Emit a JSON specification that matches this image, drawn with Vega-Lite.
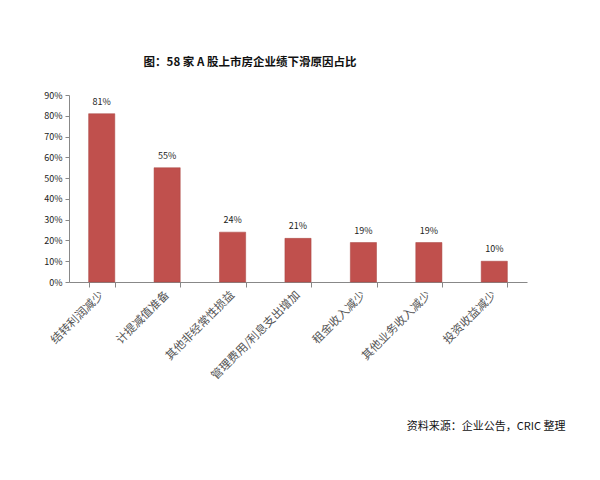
{
  "$schema": "https://vega.github.io/schema/vega-lite/v6.json",
  "autosize": "none",
  "width": 458,
  "height": 187,
  "padding": {"left": 69, "top": 95, "right": 73, "bottom": 198},
  "background": "white",
  "title": {
    "text": "图：58 家 A 股上市房企业绩下滑原因占比",
    "anchor": "middle",
    "dx": -48,
    "offset": 23,
    "font": "Noto Sans CJK SC",
    "fontSize": 11.5,
    "fontWeight": "bold",
    "color": "#111111"
  },
  "data": {
    "values": [
      {"reason": "结转利润减少", "share": 0.81},
      {"reason": "计提减值准备", "share": 0.55},
      {"reason": "其他非经常性损益", "share": 0.24},
      {"reason": "管理费用/利息支出增加", "share": 0.21},
      {"reason": "租金收入减少", "share": 0.19},
      {"reason": "其他业务收入减少", "share": 0.19},
      {"reason": "投资收益减少", "share": 0.10}
    ]
  },
  "config": {
    "view": {"stroke": null},
    "font": "Noto Sans CJK SC"
  },
  "encoding": {
    "x": {
      "field": "reason",
      "type": "nominal",
      "sort": null,
      "scale": {"paddingInner": 0.6, "paddingOuter": 0.3},
      "axis": {
        "title": "资料来源：企业公告，CRIC 整理",
        "titleAnchor": "end",
        "titleX": 496,
        "titleY": 144,
        "titleBaseline": "middle",
        "titleFont": "Noto Sans CJK SC",
        "titleFontSize": 11,
        "titleFontWeight": "normal",
        "titleColor": "#111111",
        "labelAngle": -45,
        "labelAlign": "right",
        "labelBaseline": "middle",
        "labelFontSize": 11.5,
        "labelColor": "#555555",
        "labelPadding": 6,
        "tickBand": "extent",
        "tickSize": 5,
        "tickColor": "#888888",
        "domainColor": "#888888",
        "labelOverlap": false
      }
    },
    "y": {
      "field": "share",
      "type": "quantitative",
      "scale": {"domain": [0, 0.9]},
      "axis": {
        "title": null,
        "format": ".0%",
        "values": [0, 0.1, 0.2, 0.3, 0.4, 0.5, 0.6, 0.7, 0.8, 0.9],
        "grid": false,
        "labelFontSize": 9,
        "labelColor": "#222222",
        "tickSize": 4,
        "tickColor": "#888888",
        "domainColor": "#888888",
        "labelPadding": 3
      }
    }
  },
  "layer": [
    {"mark": {"type": "bar", "color": "#c0504d", "stroke": "#a94441", "strokeWidth": 0.5}},
    {
      "mark": {"type": "text", "dy": -12, "fontSize": 9, "color": "#222222"},
      "encoding": {"text": {"field": "share", "type": "quantitative", "format": ".0%"}}
    }
  ]
}
